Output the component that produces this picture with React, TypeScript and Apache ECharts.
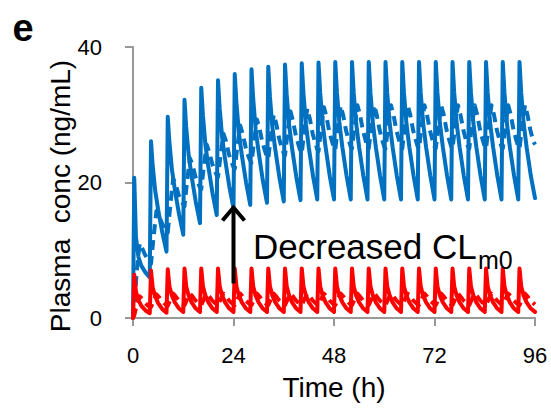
import React, { useEffect, useRef } from "react";
import * as echarts from "echarts";

// ---- data ----
const DOSE_INTERVAL_H = 4;
const X_MIN = 0;
const X_MAX = 96;
const X_STEP = 24;
const Y_MIN = 0;
const Y_MAX = 40;
const Y_STEP = 20;

// hours after each dose at which the values of one cycle are read
const solidPhaseH = [0, 0.3, 0.7, 1.3, 2, 3];
const dashedPhaseH = [0, 0.3, 0.9, 1.6, 2.2, 2.9, 3.6];

// blue solid (ng/mL), one row per 4-h dosing cycle
const blueSolidCycles = [
  [0, 20.7, 12.0, 9.0, 7.7, 6.7],
  [6.0, 26.1, 22.5, 18.8, 16.0, 12.6],
  [9.8, 29.7, 25.9, 21.9, 18.9, 15.3],
  [12.3, 32.2, 28.2, 24.0, 20.9, 17.1],
  [14.0, 34.0, 29.9, 25.5, 22.3, 18.4],
  [15.2, 35.1, 30.9, 26.6, 23.4, 19.4],
  [16.2, 36.0, 31.8, 27.3, 24.0, 20.0],
  [16.7, 36.7, 32.4, 27.8, 24.5, 20.3],
  [17.0, 37.1, 32.7, 28.1, 24.8, 20.6],
  [17.2, 37.4, 33.0, 28.4, 25.0, 20.8],
  [17.4, 37.6, 33.2, 28.6, 25.1, 20.9],
  [17.5, 37.7, 33.3, 28.6, 25.2, 20.9],
  [17.5, 37.8, 33.3, 28.7, 25.2, 21.0],
  [17.5, 37.8, 33.3, 28.7, 25.2, 21.0],
  [17.5, 37.8, 33.3, 28.7, 25.2, 21.0],
  [17.5, 37.8, 33.3, 28.7, 25.2, 21.0],
  [17.5, 37.8, 33.3, 28.7, 25.2, 21.0],
  [17.5, 37.8, 33.3, 28.7, 25.2, 21.0],
  [17.5, 37.8, 33.3, 28.7, 25.2, 21.0],
  [17.5, 37.8, 33.3, 28.7, 25.2, 21.0],
  [17.5, 37.8, 33.3, 28.7, 25.2, 21.0],
  [17.5, 37.8, 33.3, 28.7, 25.2, 21.0],
  [17.5, 37.8, 33.3, 28.7, 25.2, 21.0],
  [17.5, 37.8, 33.3, 28.7, 25.2, 21.0],
];
const blueSolidEnd = 17.7;

// blue dashed (ng/mL)
const blueDashedCycles = [
  [0, 1.5, 7.0, 11.0, 10.3, 9.3, 8.6],
  [8.3, 8.0, 11.9, 15.8, 15.1, 14.0, 13.1],
  [12.9, 12.6, 16.6, 20.6, 19.7, 18.2, 17.2],
  [16.8, 16.5, 20.1, 23.6, 22.6, 20.9, 19.8],
  [19.3, 19.0, 22.3, 25.6, 24.5, 22.8, 21.6],
  [21.1, 20.8, 24.0, 27.2, 26.1, 24.2, 22.9],
  [22.3, 22.0, 25.2, 28.4, 27.2, 25.2, 23.8],
  [23.2, 22.9, 26.1, 29.3, 28.0, 25.9, 24.5],
  [23.8, 23.5, 26.8, 30.0, 28.7, 26.5, 25.0],
  [24.3, 24.0, 27.3, 30.5, 29.1, 26.9, 25.4],
  [24.6, 24.3, 27.6, 30.9, 29.5, 27.2, 25.7],
  [24.9, 24.6, 27.9, 31.1, 29.7, 27.4, 25.9],
  [25.1, 24.8, 28.1, 31.3, 29.9, 27.6, 26.1],
  [25.3, 25.0, 28.2, 31.4, 30.0, 27.7, 26.1],
  [25.3, 25.0, 28.2, 31.4, 30.0, 27.7, 26.1],
  [25.3, 25.0, 28.2, 31.4, 30.0, 27.7, 26.1],
  [25.3, 25.0, 28.2, 31.4, 30.0, 27.7, 26.1],
  [25.3, 25.0, 28.2, 31.4, 30.0, 27.7, 26.1],
  [25.3, 25.0, 28.2, 31.4, 30.0, 27.7, 26.1],
  [25.3, 25.0, 28.2, 31.4, 30.0, 27.7, 26.1],
  [25.3, 25.0, 28.2, 31.4, 30.0, 27.7, 26.1],
  [25.3, 25.0, 28.2, 31.4, 30.0, 27.7, 26.1],
  [25.3, 25.0, 28.2, 31.4, 30.0, 27.7, 26.1],
  [25.3, 25.0, 28.2, 31.4, 30.0, 27.7, 26.1],
];
const blueDashedEnd = 25.6;

// red solid (ng/mL)
const redSolidCycles = [
  [0, 6.4, 3.9, 2.6, 1.8, 1.1],
  [0.7, 7.0, 4.5, 3.2, 2.2, 1.3],
  [0.8, 7.2, 4.7, 3.3, 2.3, 1.4],
  [0.9, 7.3, 4.7, 3.3, 2.3, 1.4],
  [0.9, 7.3, 4.7, 3.3, 2.3, 1.4],
  [0.9, 7.3, 4.7, 3.3, 2.3, 1.4],
  [0.9, 7.3, 4.7, 3.3, 2.3, 1.4],
  [0.9, 7.3, 4.7, 3.3, 2.3, 1.4],
  [0.9, 7.3, 4.7, 3.3, 2.3, 1.4],
  [0.9, 7.3, 4.7, 3.3, 2.3, 1.4],
  [0.9, 7.3, 4.7, 3.3, 2.3, 1.4],
  [0.9, 7.3, 4.7, 3.3, 2.3, 1.4],
  [0.9, 7.3, 4.7, 3.3, 2.3, 1.4],
  [0.9, 7.3, 4.7, 3.3, 2.3, 1.4],
  [0.9, 7.3, 4.7, 3.3, 2.3, 1.4],
  [0.9, 7.3, 4.7, 3.3, 2.3, 1.4],
  [0.9, 7.3, 4.7, 3.3, 2.3, 1.4],
  [0.9, 7.3, 4.7, 3.3, 2.3, 1.4],
  [0.9, 7.3, 4.7, 3.3, 2.3, 1.4],
  [0.9, 7.3, 4.7, 3.3, 2.3, 1.4],
  [0.9, 7.3, 4.7, 3.3, 2.3, 1.4],
  [0.9, 7.3, 4.7, 3.3, 2.3, 1.4],
  [0.9, 7.3, 4.7, 3.3, 2.3, 1.4],
  [0.9, 7.3, 4.7, 3.3, 2.3, 1.4],
];
const redSolidEnd = 0.9;

// red dashed (ng/mL)
const redDashedCycles = [
  [0, 0.4, 2.0, 3.2, 2.8, 2.2, 1.8],
  [1.7, 1.6, 2.5, 3.5, 3.1, 2.5, 2.1],
  [1.9, 1.8, 2.7, 3.6, 3.2, 2.6, 2.2],
  [2.0, 1.9, 2.75, 3.6, 3.2, 2.6, 2.2],
  [2.0, 1.9, 2.75, 3.6, 3.2, 2.6, 2.2],
  [2.0, 1.9, 2.75, 3.6, 3.2, 2.6, 2.2],
  [2.0, 1.9, 2.75, 3.6, 3.2, 2.6, 2.2],
  [2.0, 1.9, 2.75, 3.6, 3.2, 2.6, 2.2],
  [2.0, 1.9, 2.75, 3.6, 3.2, 2.6, 2.2],
  [2.0, 1.9, 2.75, 3.6, 3.2, 2.6, 2.2],
  [2.0, 1.9, 2.75, 3.6, 3.2, 2.6, 2.2],
  [2.0, 1.9, 2.75, 3.6, 3.2, 2.6, 2.2],
  [2.0, 1.9, 2.75, 3.6, 3.2, 2.6, 2.2],
  [2.0, 1.9, 2.75, 3.6, 3.2, 2.6, 2.2],
  [2.0, 1.9, 2.75, 3.6, 3.2, 2.6, 2.2],
  [2.0, 1.9, 2.75, 3.6, 3.2, 2.6, 2.2],
  [2.0, 1.9, 2.75, 3.6, 3.2, 2.6, 2.2],
  [2.0, 1.9, 2.75, 3.6, 3.2, 2.6, 2.2],
  [2.0, 1.9, 2.75, 3.6, 3.2, 2.6, 2.2],
  [2.0, 1.9, 2.75, 3.6, 3.2, 2.6, 2.2],
  [2.0, 1.9, 2.75, 3.6, 3.2, 2.6, 2.2],
  [2.0, 1.9, 2.75, 3.6, 3.2, 2.6, 2.2],
  [2.0, 1.9, 2.75, 3.6, 3.2, 2.6, 2.2],
  [2.0, 1.9, 2.75, 3.6, 3.2, 2.6, 2.2],
];
const redDashedEnd = 2.0;

// annotation arrow (data coordinates)
const arrowTime = 24;
const arrowFrom = 5.1;
const arrowTo = 16.3;

const panelLabel = "e";
const yTitle = "Plasma  conc (ng/mL)";
const xTitle = "Time (h)";
const noteMain = "Decreased CL";
const noteSub = "m0";

// ---- style ----
const FONT = "Liberation Sans, Arial, sans-serif";
const BLUE = "#0070C0";
const RED = "#FF0000";
const AXIS_GRAY = "#989898";

function buildPoints(cycles: number[][], phase: number[], end: number) {
  const pts: number[][] = [];
  cycles.forEach((row, i) => {
    row.forEach((v, j) => {
      pts.push([i * DOSE_INTERVAL_H + phase[j], v]);
    });
  });
  pts.push([cycles.length * DOSE_INTERVAL_H, end]);
  return pts;
}

function lineSeries(data: number[][], color: string, dashed: boolean) {
  return {
    type: "line",
    data,
    showSymbol: false,
    symbol: "none",
    smooth: false,
    clip: false,
    lineStyle: {
      color,
      width: 4,
      type: dashed ? [10, 6] : "solid",
      cap: dashed ? "butt" : "round",
      join: "round",
    },
  };
}

export default function App() {
  const ref = useRef<HTMLDivElement>(null);

  useEffect(() => {
    document.body.style.margin = "0";
    if (!ref.current) return;
    const chart = echarts.init(ref.current, null, { renderer: "svg" });
    chart.setOption({
      animation: false,
      backgroundColor: "#ffffff",
      grid: { left: 133, right: 16, top: 47, bottom: 94, containLabel: false },
      xAxis: {
        type: "value",
        min: X_MIN,
        max: X_MAX,
        interval: X_STEP,
        splitLine: { show: false },
        axisLine: { show: true, lineStyle: { color: AXIS_GRAY, width: 2 } },
        axisTick: { show: true, length: 8, lineStyle: { color: AXIS_GRAY, width: 2 } },
        axisLabel: { margin: 26, fontSize: 22, color: "#000", fontFamily: FONT },
        name: xTitle,
        nameLocation: "middle",
        nameGap: 55,
        nameTextStyle: { fontSize: 28, color: "#000", fontFamily: FONT },
      },
      yAxis: {
        type: "value",
        min: Y_MIN,
        max: Y_MAX,
        interval: Y_STEP,
        splitLine: { show: false },
        axisLine: { show: true, lineStyle: { color: AXIS_GRAY, width: 2 } },
        axisTick: { show: true, length: 8, lineStyle: { color: AXIS_GRAY, width: 2 } },
        axisLabel: { margin: 31, fontSize: 22, color: "#000", fontFamily: FONT },
      },
      series: [
        lineSeries(buildPoints(blueSolidCycles, solidPhaseH, blueSolidEnd), BLUE, false),
        lineSeries(buildPoints(blueDashedCycles, dashedPhaseH, blueDashedEnd), BLUE, true),
        lineSeries(buildPoints(redDashedCycles, dashedPhaseH, redDashedEnd), RED, true),
        lineSeries(buildPoints(redSolidCycles, solidPhaseH, redSolidEnd), RED, false),
      ],
    });

    const pBottom = chart.convertToPixel({ gridIndex: 0 }, [arrowTime, arrowFrom]) as number[];
    const pTop = chart.convertToPixel({ gridIndex: 0 }, [arrowTime, arrowTo]) as number[];

    chart.setOption({
      graphic: [
        {
          type: "text",
          x: 23,
          y: 28,
          style: {
            text: panelLabel,
            fontSize: 38,
            fontWeight: "bold",
            fontFamily: FONT,
            fill: "#000",
            textAlign: "center",
            textVerticalAlign: "middle",
          },
        },
        {
          type: "text",
          x: 60,
          y: 196,
          rotation: Math.PI / 2,
          style: {
            text: yTitle,
            fontSize: 28,
            fontFamily: FONT,
            fill: "#000",
            textAlign: "center",
            textVerticalAlign: "middle",
          },
        },
        {
          type: "line",
          z: 100,
          shape: { x1: pBottom[0], y1: pBottom[1], x2: pTop[0], y2: pTop[1] },
          style: { stroke: "#000", lineWidth: 4 },
        },
        {
          type: "polyline",
          z: 100,
          shape: {
            points: [
              [pTop[0] - 11, pTop[1] + 13],
              [pTop[0], pTop[1]],
              [pTop[0] + 11, pTop[1] + 13],
            ],
          },
          style: { stroke: "#000", lineWidth: 4, fill: "none", lineJoin: "miter" },
        },
        {
          type: "text",
          x: 253,
          y: 246,
          z: 100,
          style: {
            text: noteMain,
            fontSize: 35,
            fontFamily: FONT,
            fill: "#000",
            textAlign: "left",
            textVerticalAlign: "middle",
          },
        },
        {
          type: "text",
          x: 478,
          y: 260,
          z: 100,
          style: {
            text: noteSub,
            fontSize: 25,
            fontFamily: FONT,
            fill: "#000",
            textAlign: "left",
            textVerticalAlign: "middle",
          },
        },
      ],
    });

    return () => {
      chart.dispose();
    };
  }, []);

  return <div ref={ref} style={{ width: 551, height: 412 }} />;
}
